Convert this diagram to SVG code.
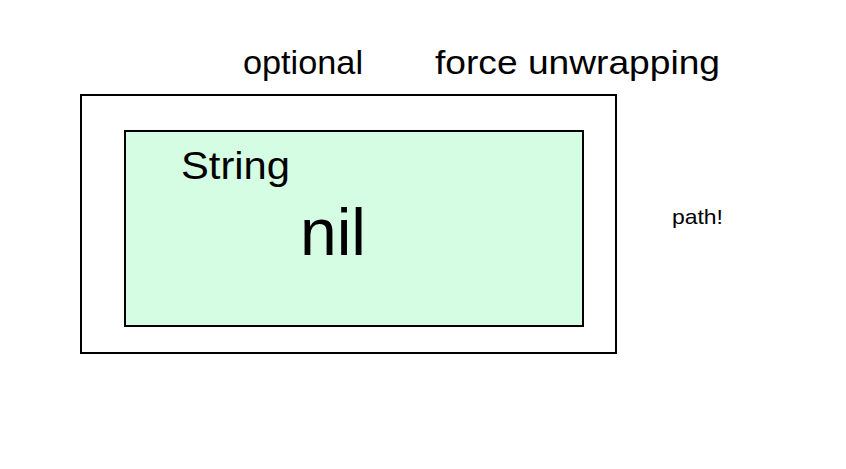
<svg xmlns="http://www.w3.org/2000/svg" width="846" height="469" viewBox="0 0 846 469">
<style>
text { font-family: "Liberation Sans", Arial, sans-serif; fill: #000; }
.box { stroke: #000; stroke-width: 2; }
</style>
<rect width="846" height="469" fill="#fff"/>
<g id="optional-box">
<rect class="box" x="81" y="95" width="535" height="258" fill="#fff"/>
</g>
<g id="string-box">
<rect class="box" x="125" y="131" width="458" height="195" fill="#d5fde4"/>
<text x="181" y="179" font-size="38" textLength="109" lengthAdjust="spacingAndGlyphs">String</text>
<text x="300" y="255" font-size="66">nil</text>
</g>
<g id="labels">
<text x="243" y="74" font-size="34" textLength="120" lengthAdjust="spacingAndGlyphs">optional</text>
<text x="435" y="74" font-size="34" textLength="285" lengthAdjust="spacingAndGlyphs">force unwrapping</text>
<text x="672" y="224" font-size="21" textLength="51" lengthAdjust="spacingAndGlyphs">path!</text>
</g>
<g id="connectors"></g>
</svg>
